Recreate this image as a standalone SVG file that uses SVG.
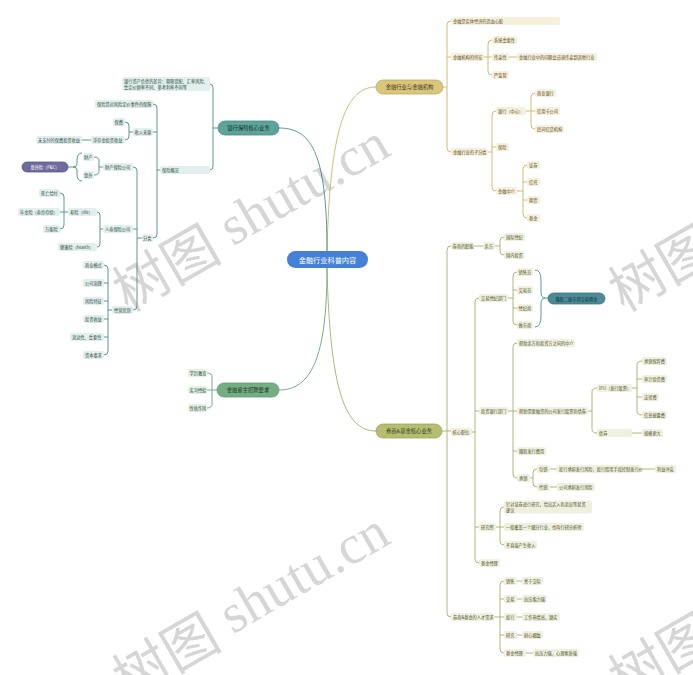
<svg xmlns="http://www.w3.org/2000/svg" width="693" height="675" viewBox="0 0 693 675">
<style>
text{font-family:"Noto Sans CJK SC","Liberation Sans",sans-serif;font-size:4.2px;dominant-baseline:central}
.wm{font-size:55px;fill:#d6d6d6}
.wm tspan{font-family:"Liberation Serif",serif}
.c{text-anchor:middle}
.main text{font-size:5.3px}
.g rect{fill:#f5f0dc}.g text{fill:#5b4b1f}
.o rect{fill:#f0f0e0}.o text{fill:#4d5226}
.t rect{fill:#e2efec}.t text{fill:#2a4a45}
.n rect{fill:#e4f0e4}.n text{fill:#2a4a30}
.lg{fill:none;stroke:#c9b46c;stroke-width:0.9}
.lo{fill:none;stroke:#a7ae6a;stroke-width:0.9}
.lt{fill:none;stroke:#4a8d84;stroke-width:0.9}
.ln{fill:none;stroke:#6aa27a;stroke-width:0.9}
</style>
<rect width="693" height="675" fill="#ffffff"/>
<g id="watermark">
<text class="wm" transform="translate(116,292) rotate(-30)">树图<tspan> shutu.cn</tspan></text>
<text class="wm" transform="translate(116,680) rotate(-30)">树图<tspan> shutu.cn</tspan></text>
<text class="wm" transform="translate(612,292) rotate(-30)">树图<tspan> shutu.cn</tspan></text>
<text class="wm" transform="translate(612,680) rotate(-30)">树图<tspan> shutu.cn</tspan></text>
</g>
<g id="connectors">
<path class="lg" d="M327,251 C330,130 345,87 376,87" stroke-width="1.1"/>
<path class="lt" d="M327,251 C327,150 310,128 279,128" stroke-width="1.1"/>
<path class="lo" d="M327,268 C330,390 345,431 376,431" stroke-width="1.1"/>
<path class="ln" d="M327,268 C327,360 310,390 279,390" stroke-width="1.1"/>
<path class="lg" d="M443,87H447 M451,21 Q447,21 447,25 V148 Q447,152 451,152 M447,57H451"/>
<path class="lg" d="M484,57H492 M492,40 Q488,40 488,44 V71 Q488,75 492,75"/>
<path class="lg" d="M509,57H517"/>
<path class="lg" d="M488,152H492 M496,111 Q492,111 492,115 V187 Q492,191 496,191 M492,147H496"/>
<path class="lg" d="M526,111H535 M535,93 Q531,93 531,97 V125 Q531,129 535,129"/>
<path class="lg" d="M517,191H523 M527,165 Q523,165 523,169 V214 Q523,218 527,218 M523,182H527 M523,200H527"/>
<path class="lo" d="M442,431H451 M451,246 Q447,246 447,250 V613 Q447,617 451,617"/>
<path class="lo" d="M474,246H483"/>
<path class="lo" d="M495,246H500 M504,237 Q500,237 500,241 V251 Q500,255 504,255"/>
<path class="lo" d="M472,432H475 M479,298 Q475,298 475,302 V559 Q475,563 479,563 M475,411H479 M475,527H479"/>
<path class="lo" d="M508,298H513 M517,272 Q513,272 513,276 V321 Q513,325 517,325 M513,290H517 M513,308H517"/>
<path fill="none" stroke="#4a8b97" stroke-width="0.9" d="M535,270 Q541,270 541,280 V292 Q541,298 545,298 Q541,298 541,304 V316 Q541,327 535,327 M545,298H548"/>
<path class="lo" d="M508,411H517 M517,343 Q513,343 513,347 V474 Q513,478 517,478 M513,451H517"/>
<path class="lo" d="M588,411H592 M597,388 Q592,388 592,392 V429 Q592,433 597,433"/>
<path class="lo" d="M632,388H637 M642,361 Q637,361 637,365 V411 Q637,415 642,415 M637,379H642 M637,397H642"/>
<path class="lo" d="M632,433H642"/>
<path class="lo" d="M530,478H533 M537,469 Q533,469 533,473 V483 Q533,487 537,487"/>
<path class="lo" d="M550,469H557 M641,469H655 M550,487H557"/>
<path class="lo" d="M496,527H504 M504,507 Q500,507 500,511 V541 Q500,545 504,545"/>
<path class="lo" d="M494,617H504 M504,581 Q500,581 500,585 V649 Q500,653 504,653 M500,599H504 M500,635H504"/>
<path class="lo" d="M517,581H522 M517,599H522 M517,617H522 M517,635H522 M526,653H533"/>
<path class="lt" d="M218,128H213 M210,84 Q213,84 213,88 V166 Q213,170 210,170"/>
<path class="lt" d="M160,170H157 M153,104 Q157,104 157,108 V234 Q157,238 153,238 M157,132H153"/>
<path class="lt" d="M133,132H129 M125,122 Q129,122 129,126 V136 Q129,140 125,140"/>
<path class="lt" d="M91,140H82"/>
<path class="lt" d="M142,238H137 M133,167 Q137,167 137,171 V306 Q137,310 133,310 M137,229H133"/>
<path class="lt" d="M103,167H99 M94,157 Q99,157 99,161 V171 Q99,175 94,175"/>
<path class="lt" d="M82,153 Q77,153 77,160 V164 Q77,167 73,167 Q77,167 77,170 V174 Q77,181 82,181 M73,167H68"/>
<path class="lt" d="M103,229H100 M97,212 Q100,212 100,215 V244 Q100,247 97,247"/>
<path class="lt" d="M68,212H60 M60,193 Q64,193 64,197 V225 Q64,229 60,229"/>
<path class="lt" d="M112,310H108 M104,265 Q108,265 108,269 V351 Q108,355 104,355 M108,283H104 M108,301H104 M108,319H104 M108,337H104"/>
<path class="ln" d="M217,390H207 M207,373 Q212,373 212,377 V404 Q212,408 207,408"/>
</g>
<g id="n-center"><rect x="287" y="251" width="81" height="17" rx="8.5" fill="#4381d6"/><text class="c" x="327.5" y="259.5" style="font-size:7.2px;fill:#fff">金融行业科普内容</text></g>
<g id="n-gold" class="main"><rect x="376" y="80" width="67" height="14" rx="7" fill="#d8c67c" stroke="#bfa95c" stroke-width="0.8"/><text class="c" x="409.5" y="87" fill="#3c3214">金融行业与金融机构</text></g>
<g id="n-olive" class="main"><rect x="376" y="424" width="66" height="14" rx="7" fill="#b5bd72" stroke="#9ea65c" stroke-width="0.8"/><text class="c" x="409" y="431" fill="#333a14">券商&amp;基金核心业务</text></g>
<g id="n-teal" class="main"><rect x="218" y="121" width="61" height="14" rx="7" fill="#5ea399" stroke="#478b81" stroke-width="0.8"/><text class="c" x="248.5" y="128" fill="#10302b">银行保险核心业务</text></g>
<g id="n-green" class="main"><rect x="217" y="383" width="62" height="14" rx="7" fill="#76ae83" stroke="#5f9a6d" stroke-width="0.8"/><text class="c" x="248" y="390" fill="#1a3320">金融雇主招聘要求</text></g>
<g id="g1" class="g"><rect x="451" y="17" width="109" height="8" rx="2"/><text x="453" y="21">金融是实体经济的造血心脏</text></g>
<g id="g2" class="g"><rect x="451" y="53" width="33" height="8" rx="2"/><text x="453" y="57">金融机构的特征</text></g>
<g id="g3" class="g"><rect x="451" y="148" width="37" height="8" rx="2"/><text x="453" y="152">金融行业的子分类</text></g>
<g id="g21" class="g"><rect x="492" y="36" width="25" height="8" rx="2"/><text x="494" y="40">系统重要性</text></g>
<g id="g22" class="g"><rect x="492" y="53" width="17" height="8" rx="2"/><text x="494" y="57">传染性</text></g>
<g id="g221" class="g"><rect x="517" y="53" width="80" height="8" rx="2"/><text x="519" y="57">金融行业中的问题会迅速传染到其他行业</text></g>
<g id="g23" class="g"><rect x="492" y="71" width="17" height="8" rx="2"/><text x="494" y="75">严监管</text></g>
<g id="g31" class="g"><rect x="496" y="107" width="30" height="8" rx="2"/><text x="498" y="111">银行（中心）</text></g>
<g id="g32" class="g"><rect x="496" y="143" width="13" height="8" rx="2"/><text x="498" y="147">保险</text></g>
<g id="g33" class="g"><rect x="496" y="187" width="21" height="8" rx="2"/><text x="498" y="191">金融中介</text></g>
<g id="g311" class="g"><rect x="535" y="89" width="21" height="8" rx="2"/><text x="537" y="93">商业银行</text></g>
<g id="g312" class="g"><rect x="535" y="107" width="25" height="8" rx="2"/><text x="537" y="111">信用卡公司</text></g>
<g id="g313" class="g"><rect x="535" y="125" width="29" height="8" rx="2"/><text x="537" y="129">民间信贷机构</text></g>
<g id="g331" class="g"><rect x="527" y="161" width="13" height="8" rx="2"/><text x="529" y="165">证券</text></g>
<g id="g332" class="g"><rect x="527" y="178" width="13" height="8" rx="2"/><text x="529" y="182">信托</text></g>
<g id="g333" class="g"><rect x="527" y="196" width="13" height="8" rx="2"/><text x="529" y="200">期货</text></g>
<g id="g334" class="g"><rect x="527" y="214" width="13" height="8" rx="2"/><text x="529" y="218">基金</text></g>
<g id="o1" class="o"><rect x="451" y="242" width="23" height="8" rx="2"/><text x="452.5" y="246">券商的职能</text></g>
<g id="o11" class="o"><rect x="483" y="242" width="12" height="8" rx="2"/><text x="484.5" y="246">卖方</text></g>
<g id="o111" class="o"><rect x="504" y="233" width="21" height="8" rx="2"/><text x="506" y="237">国际经纪</text></g>
<g id="o112" class="o"><rect x="504" y="251" width="21" height="8" rx="2"/><text x="506" y="255">国内投资</text></g>
<g id="o2" class="o"><rect x="451" y="428" width="21" height="8" rx="2"/><text x="452.5" y="432">核心职位</text></g>
<g id="o21" class="o"><rect x="479" y="294" width="29" height="8" rx="2"/><text x="481" y="298">交易经纪部门</text></g>
<g id="o211" class="o"><rect x="517" y="268" width="16" height="8" rx="2"/><text x="518.5" y="272">销售员</text></g>
<g id="o212" class="o"><rect x="517" y="286" width="16" height="8" rx="2"/><text x="518.5" y="290">交易员</text></g>
<g id="o213" class="o"><rect x="517" y="304" width="16" height="8" rx="2"/><text x="518.5" y="308">经纪商</text></g>
<g id="o214" class="o"><rect x="517" y="321" width="16" height="8" rx="2"/><text x="518.5" y="325">做市商</text></g>
<g id="o215"><rect x="548" y="293" width="57" height="11" rx="5.5" fill="#4a8b97" stroke="#3a7682" stroke-width="0.8"/><text class="c" x="576.5" y="298.5" fill="#10303a">赚取二级市场交易佣金</text></g>
<g id="o22" class="o"><rect x="479" y="407" width="29" height="8" rx="2"/><text x="481" y="411">投资银行部门</text></g>
<g id="o221" class="o"><rect x="517" y="339" width="58" height="8" rx="2"/><text x="519" y="343">帮助卖方和投资方之间的中介</text></g>
<g id="o222" class="o"><rect x="517" y="407" width="71" height="8" rx="2"/><text x="519" y="411">帮助需要融资的公司发行股票和债券</text></g>
<g id="o2221" class="o"><rect x="597" y="384" width="35" height="8" rx="2"/><text x="599" y="388">IPO（发行股票）</text></g>
<g id="o22211" class="o"><rect x="642" y="357" width="25" height="8" rx="2"/><text x="644" y="361">承销保荐费</text></g>
<g id="o22212" class="o"><rect x="642" y="375" width="25" height="8" rx="2"/><text x="644" y="379">审计验资费</text></g>
<g id="o22213" class="o"><rect x="642" y="393" width="17" height="8" rx="2"/><text x="644" y="397">法律费</text></g>
<g id="o22214" class="o"><rect x="642" y="411" width="25" height="8" rx="2"/><text x="644" y="415">信息披露费</text></g>
<g id="o2222" class="o"><rect x="597" y="429" width="35" height="8" rx="2"/><text x="599" y="433">债券</text></g>
<g id="o22221" class="o"><rect x="642" y="429" width="21" height="8" rx="2"/><text x="644" y="433">规模更大</text></g>
<g id="o223" class="o"><rect x="517" y="447" width="29" height="8" rx="2"/><text x="519" y="451">赚取发行费用</text></g>
<g id="o224" class="o"><rect x="517" y="474" width="13" height="8" rx="2"/><text x="519" y="478">承销</text></g>
<g id="o2241" class="o"><rect x="537" y="465" width="13" height="8" rx="2"/><text x="539" y="469">包销</text></g>
<g id="o22411" class="o"><rect x="557" y="465" width="84" height="8" rx="2"/><text x="559" y="469">投行承担发行风险，投行借用手段控制发行价</text></g>
<g id="o224111" class="o"><rect x="655" y="465" width="21" height="8" rx="2"/><text x="657" y="469">利益冲突</text></g>
<g id="o2242" class="o"><rect x="537" y="483" width="13" height="8" rx="2"/><text x="539" y="487">代销</text></g>
<g id="o22421" class="o"><rect x="557" y="483" width="38" height="8" rx="2"/><text x="559" y="487">公司承担发行风险</text></g>
<g id="o23" class="o"><rect x="479" y="523" width="17" height="8" rx="2"/><text x="481" y="527">研究所</text></g>
<g id="o231" class="o"><rect x="504" y="500.5" width="88" height="13" rx="2"/><text x="506" y="504">针对证券进行研究，给出买入和卖出等投资</text><text x="506" y="510">建议</text></g>
<g id="o232" class="o"><rect x="504" y="523" width="80" height="8" rx="2"/><text x="506" y="527">一般覆盖一个细分行业，也叫行研分析师</text></g>
<g id="o233" class="o"><rect x="504" y="541" width="33" height="8" rx="2"/><text x="506" y="545">不直接产生收入</text></g>
<g id="o24" class="o"><rect x="479" y="559" width="21" height="8" rx="2"/><text x="481" y="563">基金经理</text></g>
<g id="o3" class="o"><rect x="451" y="613" width="43" height="8" rx="2"/><text x="453" y="617">券商&amp;基金的人才需求</text></g>
<g id="o31" class="o"><rect x="504" y="577" width="13" height="8" rx="2"/><text x="506" y="581">销售</text></g>
<g id="o311" class="o"><rect x="522" y="577" width="21" height="8" rx="2"/><text x="524" y="581">善于交际</text></g>
<g id="o32" class="o"><rect x="504" y="595" width="13" height="8" rx="2"/><text x="506" y="599">交易</text></g>
<g id="o321" class="o"><rect x="522" y="595" width="25" height="8" rx="2"/><text x="524" y="599">抗压能力强</text></g>
<g id="o33" class="o"><rect x="504" y="613" width="13" height="8" rx="2"/><text x="506" y="617">投行</text></g>
<g id="o331" class="o"><rect x="522" y="613" width="38" height="8" rx="2"/><text x="524" y="617">工作热情高，踏实</text></g>
<g id="o34" class="o"><rect x="504" y="631" width="13" height="8" rx="2"/><text x="506" y="635">研究</text></g>
<g id="o341" class="o"><rect x="522" y="631" width="21" height="8" rx="2"/><text x="524" y="635">耐心细致</text></g>
<g id="o35" class="o"><rect x="504" y="649" width="22" height="8" rx="2"/><text x="506" y="653">基金经理</text></g>
<g id="o351" class="o"><rect x="533" y="649" width="46" height="8" rx="2"/><text x="535" y="653">抗压力强，心理素质强</text></g>
<g id="t1" class="t"><rect x="122" y="77" width="88" height="14" rx="2"/><text x="124" y="81">银行资产负债的差异：期限错配、汇率风险、</text><text x="124" y="87">重定价频率不同、参考利率不同等</text></g>
<g id="t2" class="t"><rect x="160" y="166" width="50" height="8" rx="2"/><text x="162" y="170">保险概况</text></g>
<g id="t21" class="t"><rect x="95" y="100" width="58" height="8" rx="2"/><text x="97" y="104">保险是对风险定价事件的保障</text></g>
<g id="t22" class="t"><rect x="133" y="128" width="20" height="8" rx="2"/><text x="134.5" y="132">收入来源</text></g>
<g id="t221" class="t"><rect x="113" y="118" width="12" height="8" rx="2"/><text x="114.5" y="122">保费</text></g>
<g id="t222" class="t"><rect x="91" y="136" width="34" height="8" rx="2"/><text x="93" y="140">浮存金投资收益</text></g>
<g id="t2221" class="t"><rect x="36" y="136" width="46" height="8" rx="2"/><text x="38" y="140">未支付的保费投资收益</text></g>
<g id="t23" class="t"><rect x="142" y="234" width="11" height="8" rx="2"/><text x="143" y="238">分类</text></g>
<g id="t231" class="t"><rect x="103" y="163" width="30" height="8" rx="2"/><text x="105" y="167">财产保险公司</text></g>
<g id="t2311" class="t"><rect x="83" y="153" width="11" height="8" rx="2"/><text x="84" y="157">财产</text></g>
<g id="t2312" class="t"><rect x="83" y="171" width="11" height="8" rx="2"/><text x="84" y="175">意外</text></g>
<g id="t23121"><rect x="22" y="162" width="46" height="10" rx="5" fill="#6f6b9c" stroke="#5a5688" stroke-width="0.8"/><text class="c" x="45" y="167" fill="#ffffff">意外险（P&amp;C）</text></g>
<g id="t232" class="t"><rect x="103" y="225" width="30" height="8" rx="2"/><text x="105" y="229">人寿保险公司</text></g>
<g id="t2321" class="t"><rect x="68" y="208" width="29" height="8" rx="2"/><text x="70" y="212">寿险（life）</text></g>
<g id="t2322" class="t"><rect x="58" y="243" width="39" height="8" rx="2"/><text x="60" y="247">健康险（health）</text></g>
<g id="t23211" class="t"><rect x="39" y="189" width="21" height="8" rx="2"/><text x="41" y="193">死亡给付</text></g>
<g id="t23212" class="t"><rect x="18" y="208" width="42" height="8" rx="2"/><text x="20" y="212">年金险（寿命存续）</text></g>
<g id="t23213" class="t"><rect x="43" y="225" width="17" height="8" rx="2"/><text x="45" y="229">万能险</text></g>
<g id="t233" class="t"><rect x="112" y="306" width="21" height="8" rx="2"/><text x="114" y="310">经营区别</text></g>
<g id="t2331" class="t"><rect x="83" y="261" width="21" height="8" rx="2"/><text x="85" y="265">商业模式</text></g>
<g id="t2332" class="t"><rect x="83" y="279" width="21" height="8" rx="2"/><text x="85" y="283">公司治理</text></g>
<g id="t2333" class="t"><rect x="83" y="297" width="21" height="8" rx="2"/><text x="85" y="301">风险特征</text></g>
<g id="t2334" class="t"><rect x="83" y="315" width="21" height="8" rx="2"/><text x="85" y="319">投资收益</text></g>
<g id="t2335" class="t"><rect x="70" y="333" width="34" height="8" rx="2"/><text x="72" y="337">流动性、重要性</text></g>
<g id="t2336" class="t"><rect x="83" y="351" width="21" height="8" rx="2"/><text x="85" y="355">资本要求</text></g>
<g id="n1" class="n"><rect x="188" y="369" width="19" height="8" rx="2"/><text x="189.5" y="373">学历教育</text></g>
<g id="n2" class="n"><rect x="188" y="386" width="19" height="8" rx="2"/><text x="189.5" y="390">实习经验</text></g>
<g id="n3" class="n"><rect x="188" y="404" width="19" height="8" rx="2"/><text x="189.5" y="408">性格作风</text></g>
</svg>
